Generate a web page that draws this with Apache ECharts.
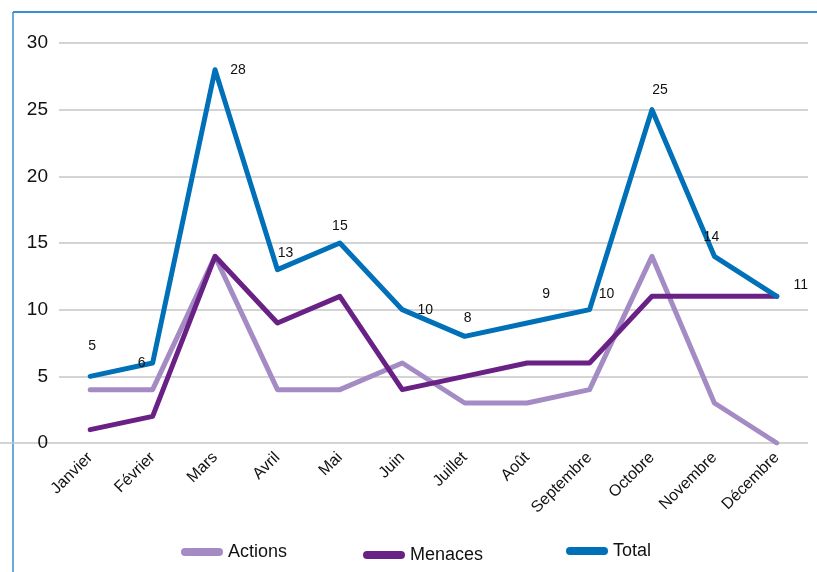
<!DOCTYPE html>
<html><head><meta charset="utf-8">
<script src="https://cdn.jsdelivr.net/npm/echarts@6/dist/echarts.min.js"></script>
<style>html,body{margin:0;padding:0;background:#fff}#c{width:817px;height:572px}</style>
</head><body><div id="c"></div>
<script>
const categories = ['Janvier','Février','Mars','Avril','Mai','Juin','Juillet','Août','Septembre','Octobre','Novembre','Décembre'];
const actions = [4,4,14,4,4,6,3,3,4,14,3,0];
const menaces = [1,2,14,9,11,4,5,6,6,11,11,11];
const total = [5,6,28,13,15,10,8,9,10,25,14,11];
const yTicks = [0,5,10,15,20,25,30];

// label offsets relative to each point (style only)
const labelOffsets = [[2,-30],[-11,0],[23,0],[8,-17],[0,-17],[23,0],[3,-18],[19,-29],[17,-16],[8,-20],[-3,-19],[24,-11]];

const FONT = '"Liberation Sans Narrow", "Liberation Sans", Arial, sans-serif';
const PILL = 'path://M4,0 L38,0 A4,4 0 0 1 38,8 L4,8 A4,4 0 0 1 4,0 Z';
const chart = echarts.init(document.getElementById('c'));
const totalData = total.map((v,i)=>({value:v,label:{offset:labelOffsets[i]}}));
const legendText = {fontSize:18,fontFamily:FONT,color:'#111'};
const legendBase = {itemWidth:42,itemHeight:8,itemGap:10,padding:0,icon:PILL,textStyle:legendText};
chart.setOption({
  animation:false,
  grid:{left:59,right:9,top:43,bottom:129},
  xAxis:{type:'category',data:categories,boundaryGap:true,
    axisLine:{show:false},axisTick:{show:false},
    axisLabel:{rotate:45,margin:12,fontSize:16,color:'#111',fontFamily:FONT,interval:0}},
  yAxis:{type:'value',min:yTicks[0],max:yTicks[yTicks.length-1],interval:5,
    axisLabel:{margin:11,fontSize:19,color:'#111',fontFamily:FONT},
    axisLine:{show:false},axisTick:{show:false},
    splitLine:{lineStyle:{color:'#c6c6c6',width:1.5}}},
  legend:[
    Object.assign({data:['Actions'],left:181,top:543},legendBase),
    Object.assign({data:['Menaces'],left:363,top:546},legendBase),
    Object.assign({data:['Total'],left:566,top:542},legendBase)
  ],
  graphic:[
    {type:'line',shape:{x1:13,y1:12,x2:13,y2:572},style:{stroke:'#3a8fd0',lineWidth:1.5},silent:true},
    {type:'line',shape:{x1:13,y1:12,x2:817,y2:12},style:{stroke:'#3a8fd0',lineWidth:2},silent:true},
    {type:'line',shape:{x1:0,y1:443,x2:59,y2:443},style:{stroke:'#c6c6c6',lineWidth:1.5},silent:true}
  ],
  series:[
    {name:'Actions',type:'line',data:actions,symbol:'circle',symbolSize:0,lineStyle:{width:5,color:'#a58bc4',cap:'round',join:'round'},itemStyle:{color:'#a58bc4'}},
    {name:'Menaces',type:'line',data:menaces,symbol:'circle',symbolSize:0,lineStyle:{width:5,color:'#6a2185',cap:'round',join:'round'},itemStyle:{color:'#6a2185'}},
    {name:'Total',type:'line',data:totalData,symbol:'circle',symbolSize:0,showSymbol:true,lineStyle:{width:5,color:'#0070b8',cap:'round',join:'round'},itemStyle:{color:'#0070b8'},
      label:{show:true,position:'inside',fontSize:14,color:'#111',fontFamily:FONT}}
  ]
});
</script></body></html>
